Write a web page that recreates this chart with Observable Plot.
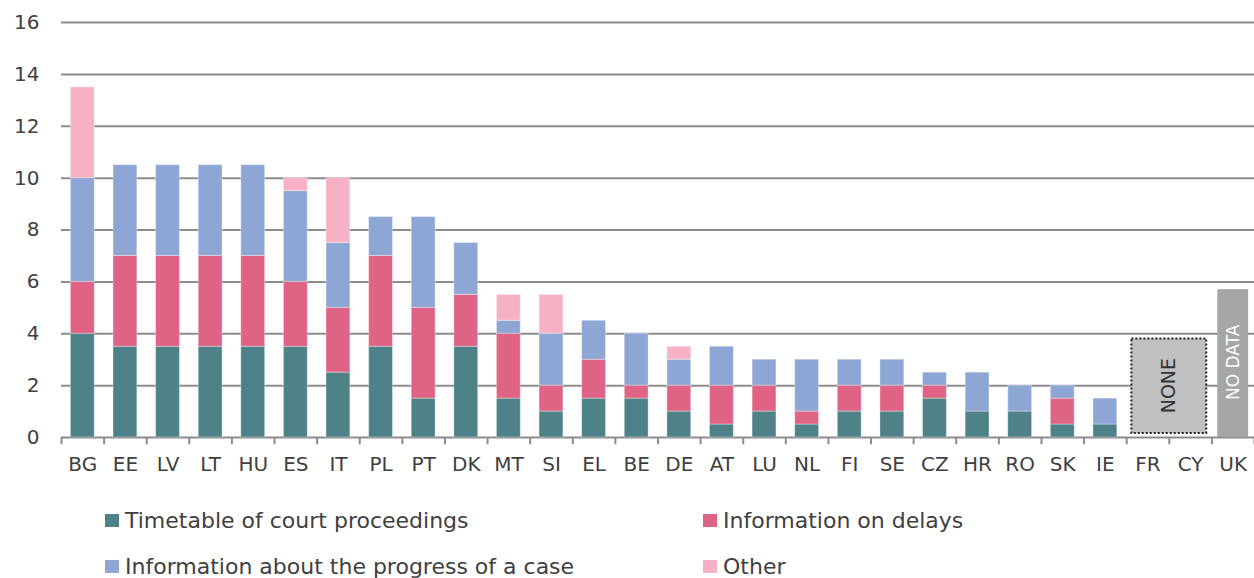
<!DOCTYPE html>
<html>
<head>
<meta charset="utf-8">
<script src="https://cdn.jsdelivr.net/npm/d3@7"></script>
<script src="https://cdn.jsdelivr.net/npm/@observablehq/plot@0.6"></script>
<style>
  html, body { margin: 0; padding: 0; background: #fff; }
  #chart { width: 1254px; }
  .legend { position: relative; width: 1254px; height: 88px; font-family: "DejaVu Sans", sans-serif; font-size: 22px; color: #404040; }
  .legend .item { position: absolute; display: flex; align-items: center; white-space: nowrap; }
  .legend .sw { width: 14px; height: 13px; margin-right: 6px; }
</style>
</head>
<body>
<div id="chart"></div>
<div class="legend" id="legend"></div>
<script>
const countries = ["BG","EE","LV","LT","HU","ES","IT","PL","PT","DK","MT","SI","EL","BE","DE","AT","LU","NL","FI","SE","CZ","HR","RO","SK","IE","FR","CY","UK"];
const timetable = [4,3.5,3.5,3.5,3.5,3.5,2.5,3.5,1.5,3.5,1.5,1,1.5,1.5,1,0.5,1,0.5,1,1,1.5,1,1,0.5,0.5,0,0,0];
const delays    = [2,3.5,3.5,3.5,3.5,2.5,2.5,3.5,3.5,2,2.5,1,1.5,0.5,1,1.5,1,0.5,1,1,0.5,0,0,1,0,0,0,0];
const progress  = [4,3.5,3.5,3.5,3.5,3.5,2.5,1.5,3.5,2,0.5,2,1.5,2,1,1.5,1,2,1,1,0.5,1.5,1,0.5,1,0,0,0];
const other     = [3.5,0,0,0,0,0.5,2.5,0,0,0,1,1.5,0,0,0.5,0,0,0,0,0,0,0,0,0,0,0,0,0];
const seriesNames = ["Timetable of court proceedings","Information on delays","Information about the progress of a case","Other"];
const seriesColors = ["#4e8188","#de6384","#8ea6d4","#f6b2c4"];
const yTicks = [0,2,4,6,8,10,12,14,16];
// annotation boxes
const noneBox = [{country: "FR", low: 0.15, high: 3.8, label: "NONE", mid: 2.0}];
const noDataBox = [{country: "UK", low: 0, high: 5.7, label: "NO DATA", mid: 2.9}];

const seriesValues = [timetable, delays, progress, other];
const data = seriesNames.flatMap((s, i) => countries.map((c, j) => ({country: c, series: s, value: seriesValues[i][j]})));

const step = (1254 - 61) / countries.length;

const chart = Plot.plot({
  width: 1254,
  height: 490,
  marginTop: 22,
  marginLeft: 61,
  marginRight: 0,
  marginBottom: 53,
  style: {fontFamily: "'DejaVu Sans', sans-serif", fontSize: "20px", color: "#404040", background: "#fff"},
  x: {domain: countries, paddingInner: 0.44, paddingOuter: 0.22, round: false, label: null, tickSize: 0, tickPadding: 19},
  y: {domain: [0, 16], ticks: yTicks, label: null, tickSize: 0, tickPadding: 22, tickFormat: d => String(d)},
  color: {domain: seriesNames, range: seriesColors},
  marks: [
    Plot.ruleY(yTicks, {stroke: "#8c8c8c", strokeWidth: 2}),
    Plot.barY(data, {x: "country", y: "value", fill: "series", stroke: "#ffffff", strokeOpacity: 0.35, strokeWidth: 1}),
    Plot.ruleX(countries, {x: d => d, dx: -step / 2, y1: 0, y2: -0.28, stroke: "#8c8c8c", strokeWidth: 2}),
    Plot.ruleX(countries.slice(-1), {x: d => d, dx: step / 2, y1: 0, y2: -0.28, stroke: "#8c8c8c", strokeWidth: 2}),
    Plot.barY(noneBox, {x: "country", y1: "low", y2: "high", fill: "#c0c0c0", stroke: "#222", strokeWidth: 2, strokeDasharray: "2,2", insetLeft: -25.5, insetRight: -25.5, dx: step / 2}),
    Plot.text(noneBox, {x: "country", y: "mid", text: "label", rotate: -90, dx: step / 2, fill: "#333", fontSize: 19}),
    Plot.barY(noDataBox, {x: "country", y1: "low", y2: "high", fill: "#a6a6a6", insetLeft: -3.5, insetRight: -3.5}),
    Plot.text(noDataBox, {x: "country", y: "mid", text: "label", rotate: -90, fill: "#ffffff", fontSize: 17})
  ]
});
document.getElementById("chart").appendChild(chart);

const legend = document.getElementById("legend");
const positions = [[105, 30], [703, 30], [105, 76], [703, 76]];
seriesNames.forEach((s, i) => {
  const item = document.createElement("div");
  item.className = "item";
  item.style.left = positions[i][0] + "px";
  item.style.top = (positions[i][1] - 13) + "px";
  item.style.height = "26px";
  const sw = document.createElement("span");
  sw.className = "sw";
  sw.style.background = seriesColors[i];
  const t = document.createElement("span");
  t.textContent = s;
  item.appendChild(sw);
  item.appendChild(t);
  legend.appendChild(item);
});
</script>
</body>
</html>
